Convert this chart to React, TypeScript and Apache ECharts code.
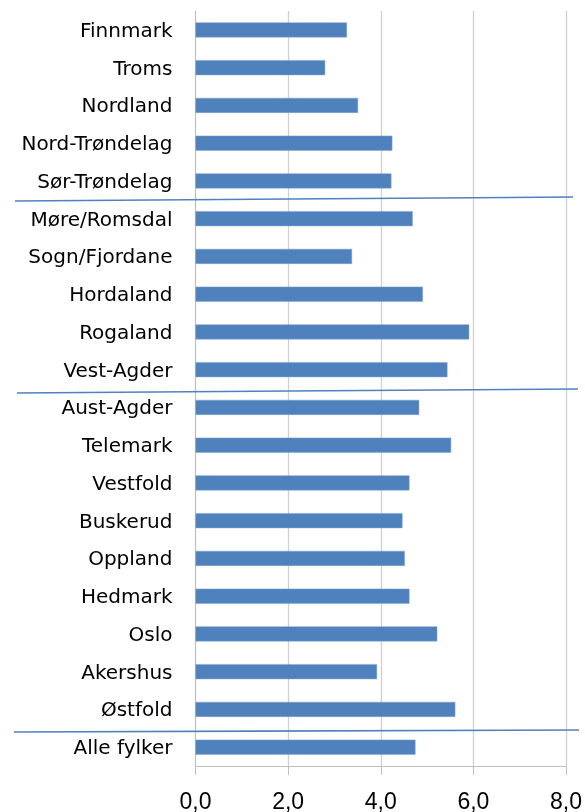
import React, { useEffect, useRef } from "react";
import * as echarts from "echarts";

const categories = [
  "Finnmark",
  "Troms",
  "Nordland",
  "Nord-Trøndelag",
  "Sør-Trøndelag",
  "Møre/Romsdal",
  "Sogn/Fjordane",
  "Hordaland",
  "Rogaland",
  "Vest-Agder",
  "Aust-Agder",
  "Telemark",
  "Vestfold",
  "Buskerud",
  "Oppland",
  "Hedmark",
  "Oslo",
  "Akershus",
  "Østfold",
  "Alle fylker",
];

const values = [
  3.27, 2.8, 3.51, 4.25, 4.23, 4.69, 3.38, 4.91, 5.91, 5.44, 4.83, 5.52, 4.62,
  4.47, 4.52, 4.62, 5.22, 3.92, 5.61, 4.75,
];

const xTicks = [0, 2, 4, 6, 8];

// hand-drawn separator lines (annotation, page pixels)
const separators = [
  [15, 201, 573, 197],
  [17, 393, 578, 389],
  [14, 732, 579, 730],
];

export default function App() {
  const ref = useRef<HTMLDivElement>(null);
  useEffect(() => {
    if (!ref.current) return;
    const chart = echarts.init(ref.current, null, { renderer: "svg" });
    chart.setOption({
      animation: false,
      grid: { left: 195.5, right: 17.5, top: 11, bottom: 44, containLabel: false },
      xAxis: {
        type: "value",
        min: xTicks[0],
        max: xTicks[xTicks.length - 1],
        interval: 2,
        axisLine: { show: true, lineStyle: { color: "#BFBFBF", width: 1 } },
        axisTick: { show: true, length: 9, lineStyle: { color: "#BFBFBF" } },
        splitLine: { show: true, lineStyle: { color: "#D0D0D0", width: 1.3 } },
        axisLabel: {
          formatter: (v: number) => v.toFixed(1).replace(".", ","),
          fontFamily: "Liberation Sans",
          fontSize: 23,
          color: "#000",
          margin: 23,
        },
      },
      yAxis: {
        type: "category",
        data: categories,
        inverse: true,
        axisLine: { show: true, lineStyle: { color: "#BFBFBF", width: 1 } },
        axisTick: { show: false },
        axisLabel: {
          fontFamily: "DejaVu Sans",
          fontSize: 20,
          color: "#000",
          margin: 23,
        },
      },
      series: [
        {
          type: "bar",
          data: values,
          barWidth: 15,
          itemStyle: { color: "#4F81BD", borderColor: "#7FA3D0", borderWidth: 0.5 },
        },
      ],
      graphic: separators.map(([x1, y1, x2, y2]) => ({
        type: "line",
        shape: { x1, y1, x2, y2 },
        style: { stroke: "#4F81BD", lineWidth: 1.6 },
        z: 100,
      })),
    });
    return () => chart.dispose();
  }, []);
  return (
    <div
      ref={ref}
      style={{ position: "fixed", left: 0, top: 0, width: 585, height: 812 }}
    />
  );
}
